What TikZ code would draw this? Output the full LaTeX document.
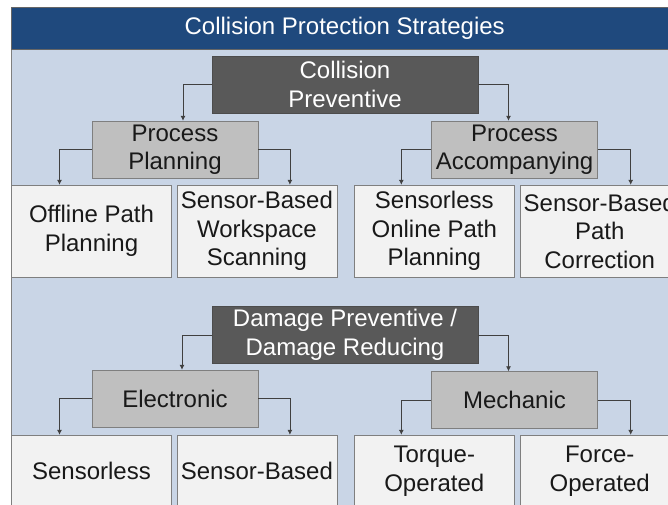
\documentclass[tikz,border=0pt]{standalone}
\usepackage{fontspec}
\setmainfont{Liberation Sans}
\usepackage{xcolor}
\usepackage{tikz}
\usetikzlibrary{arrows.meta, positioning}

\definecolor{titleblue}{RGB}{31,73,125}
\definecolor{panelblue}{RGB}{201,213,230}
\definecolor{darkbox}{RGB}{89,89,89}
\definecolor{greybox}{RGB}{191,191,191}
\definecolor{leafgrey}{RGB}{242,242,242}
\definecolor{edgegrey}{RGB}{127,127,127}

\begin{document}
\begin{tikzpicture}[
    x=1pt, y=-1pt,
    font=\fontsize{24}{28.5}\selectfont,
    head/.style={rectangle, draw=black!70, fill=darkbox, text=white, align=center, minimum width=266pt, minimum height=57pt, inner sep=0pt},
    group/.style={rectangle, draw=edgegrey, fill=greybox, text=black!90, align=center, minimum width=166pt, minimum height=57pt, inner sep=0pt},
    leaf/.style={rectangle, draw=edgegrey, fill=leafgrey, text=black!90, align=center, minimum width=160pt, inner sep=0pt},
    arrow/.style={-{Latex[length=5pt,width=5pt]}, draw=black!75, line width=0.8pt}
]

\useasboundingbox (0,0) rectangle (668,505);

% Background and title
\node[rectangle, draw=edgegrey, fill=panelblue, anchor=north west, minimum width=667pt, minimum height=470pt, inner sep=0pt] (panel) at (11,49) {};
\node[rectangle, draw=black!60, fill=titleblue, text=white, anchor=north west, minimum width=667pt, minimum height=42pt, inner sep=0pt] (title) at (11,7) {Collision Protection Strategies};

% Collision Preventive
\node[head] (cp) at (345,84.5) {Collision\\Preventive};
\node[group] (pp) at (175,149.5) {Process\\Planning};
\node[group] (pa) at (514.5,149.5) {Process\\Accompanying};
\node[leaf, minimum height=92pt] (opp) at (91.5,231) {Offline Path\\Planning};
\node[leaf, minimum height=92pt, right=5pt of opp] (sws) {Sensor-Based\\Workspace\\Scanning};
\node[leaf, minimum height=92pt, right=17pt of sws] (sop) {Sensorless\\Online Path\\Planning};
\node[leaf, minimum height=92pt, right=5pt of sop] (spc) {Sensor-Based\\Path\\Correction};

% Damage Preventive / Damage Reducing
\node[head] (dp) at (345,335) {Damage Preventive /\\Damage Reducing};
\node[group] (el) at (175,398.5) {Electronic};
\node[group] (me) at (514.5,400) {Mechanic};
\node[leaf, minimum height=72pt] (esl) at (91.5,471) {Sensorless};
\node[leaf, minimum height=72pt, right=5pt of esl] (esb) {Sensor-Based};
\node[leaf, minimum height=72pt, right=17pt of esb] (mto) {Torque-\\Operated};
\node[leaf, minimum height=72pt, right=5pt of mto] (mfo) {Force-\\Operated};

% Arrows
\draw[arrow] (cp.west) -| ([xshift=8pt]pp.north);
\draw[arrow] (cp.east) -| ([xshift=-6pt]pa.north);
\draw[arrow] (pp.west) -| ([xshift=-32pt]opp.north);
\draw[arrow] (pp.east) -| ([xshift=33pt]sws.north);
\draw[arrow] (pa.west) -| ([xshift=-33pt]sop.north);
\draw[arrow] (pa.east) -| ([xshift=31pt]spc.north);
\draw[arrow] (dp.west) -| ([xshift=7pt]el.north);
\draw[arrow] (dp.east) -| ([xshift=-6pt]me.north);
\draw[arrow] (el.west) -| ([xshift=-32pt]esl.north);
\draw[arrow] (el.east) -| ([xshift=33pt]esb.north);
\draw[arrow] (me.west) -| ([xshift=-33pt]mto.north);
\draw[arrow] (me.east) -| ([xshift=31pt]mfo.north);

\end{tikzpicture}
\end{document}
